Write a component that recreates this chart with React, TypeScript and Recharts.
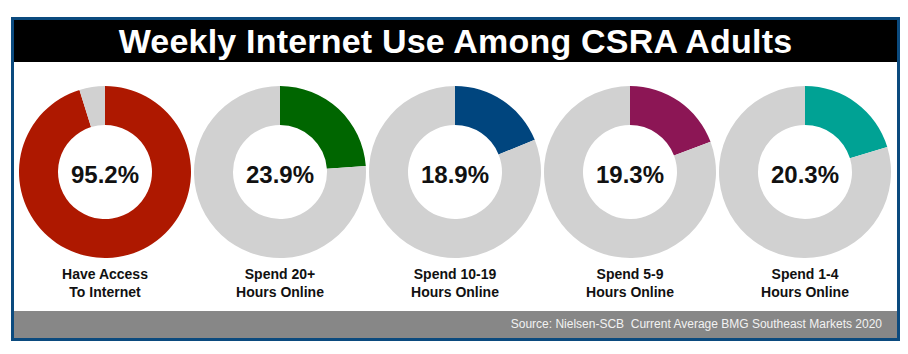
import React from "react";
import { PieChart, Pie, Cell } from "recharts";

const categories: string[][] = [
  ["Have Access", "To Internet"],
  ["Spend 20+", "Hours Online"],
  ["Spend 10-19", "Hours Online"],
  ["Spend 5-9", "Hours Online"],
  ["Spend 1-4", "Hours Online"],
];
const values: number[] = [95.2, 23.9, 18.9, 19.3, 20.3];
const colors: string[] = ["#AE1800", "#006600", "#00457E", "#8C1655", "#00A294"];
const restColor = "#D1D1D1";
const title = "Weekly Internet Use Among CSRA Adults";
const source = "Source: Nielsen-SCB\u00a0 Current Average BMG Southeast Markets 2020";

const centersX = [105, 280, 455, 630, 805];
const CY = 172;
const FONT = "'Liberation Sans', Arial, Helvetica, sans-serif";

export default function App() {
  return (
    <div style={{ position: "absolute", left: 0, top: 0, width: 908, height: 354, background: "#fff", fontFamily: FONT }}>
      <div style={{ position: "absolute", left: 11, top: 17, width: 889, height: 324, boxSizing: "border-box", border: "3px solid #0B4A7E" }} />
      <div style={{ position: "absolute", left: 14, top: 20, width: 883, height: 42, background: "#000", color: "#fff", fontWeight: 700, fontSize: 34, lineHeight: "42px", textAlign: "center", letterSpacing: 0.2 }}>
        {title}
      </div>
      <div style={{ position: "absolute", left: 0, top: 0 }}>
        <PieChart width={908} height={354} margin={{ top: 0, right: 0, bottom: 0, left: 0 }}>
          {values.map((v, i) => (
            <Pie
              key={i}
              data={[{ name: "value", v }, { name: "rest", v: +(100 - v).toFixed(1) }]}
              dataKey="v"
              cx={centersX[i]}
              cy={CY}
              innerRadius={47}
              outerRadius={86}
              startAngle={90}
              endAngle={-270}
              stroke="none"
              isAnimationActive={false}
            >
              <Cell fill={colors[i]} />
              <Cell fill={restColor} />
            </Pie>
          ))}
        </PieChart>
      </div>
      {values.map((v, i) => (
        <div key={i} style={{ position: "absolute", left: centersX[i] - 45, top: CY - 11, width: 90, height: 28, textAlign: "center", fontWeight: 700, fontSize: 24, lineHeight: "28px", color: "#111" }}>
          {`${v}%`}
        </div>
      ))}
      {categories.map((lines, i) => (
        <div key={i} style={{ position: "absolute", left: centersX[i] - 90, top: 265, width: 180, textAlign: "center", fontWeight: 700, fontSize: 14, lineHeight: "18px", color: "#111" }}>
          {lines.map((l, j) => (
            <div key={j}>{l}</div>
          ))}
        </div>
      ))}
      <div style={{ position: "absolute", left: 14, top: 311, width: 883, height: 27, background: "#878787", color: "#F2F2F2", fontSize: 12, lineHeight: "27px", textAlign: "right", boxSizing: "border-box", paddingRight: 15 }}>
        {source}
      </div>
    </div>
  );
}
